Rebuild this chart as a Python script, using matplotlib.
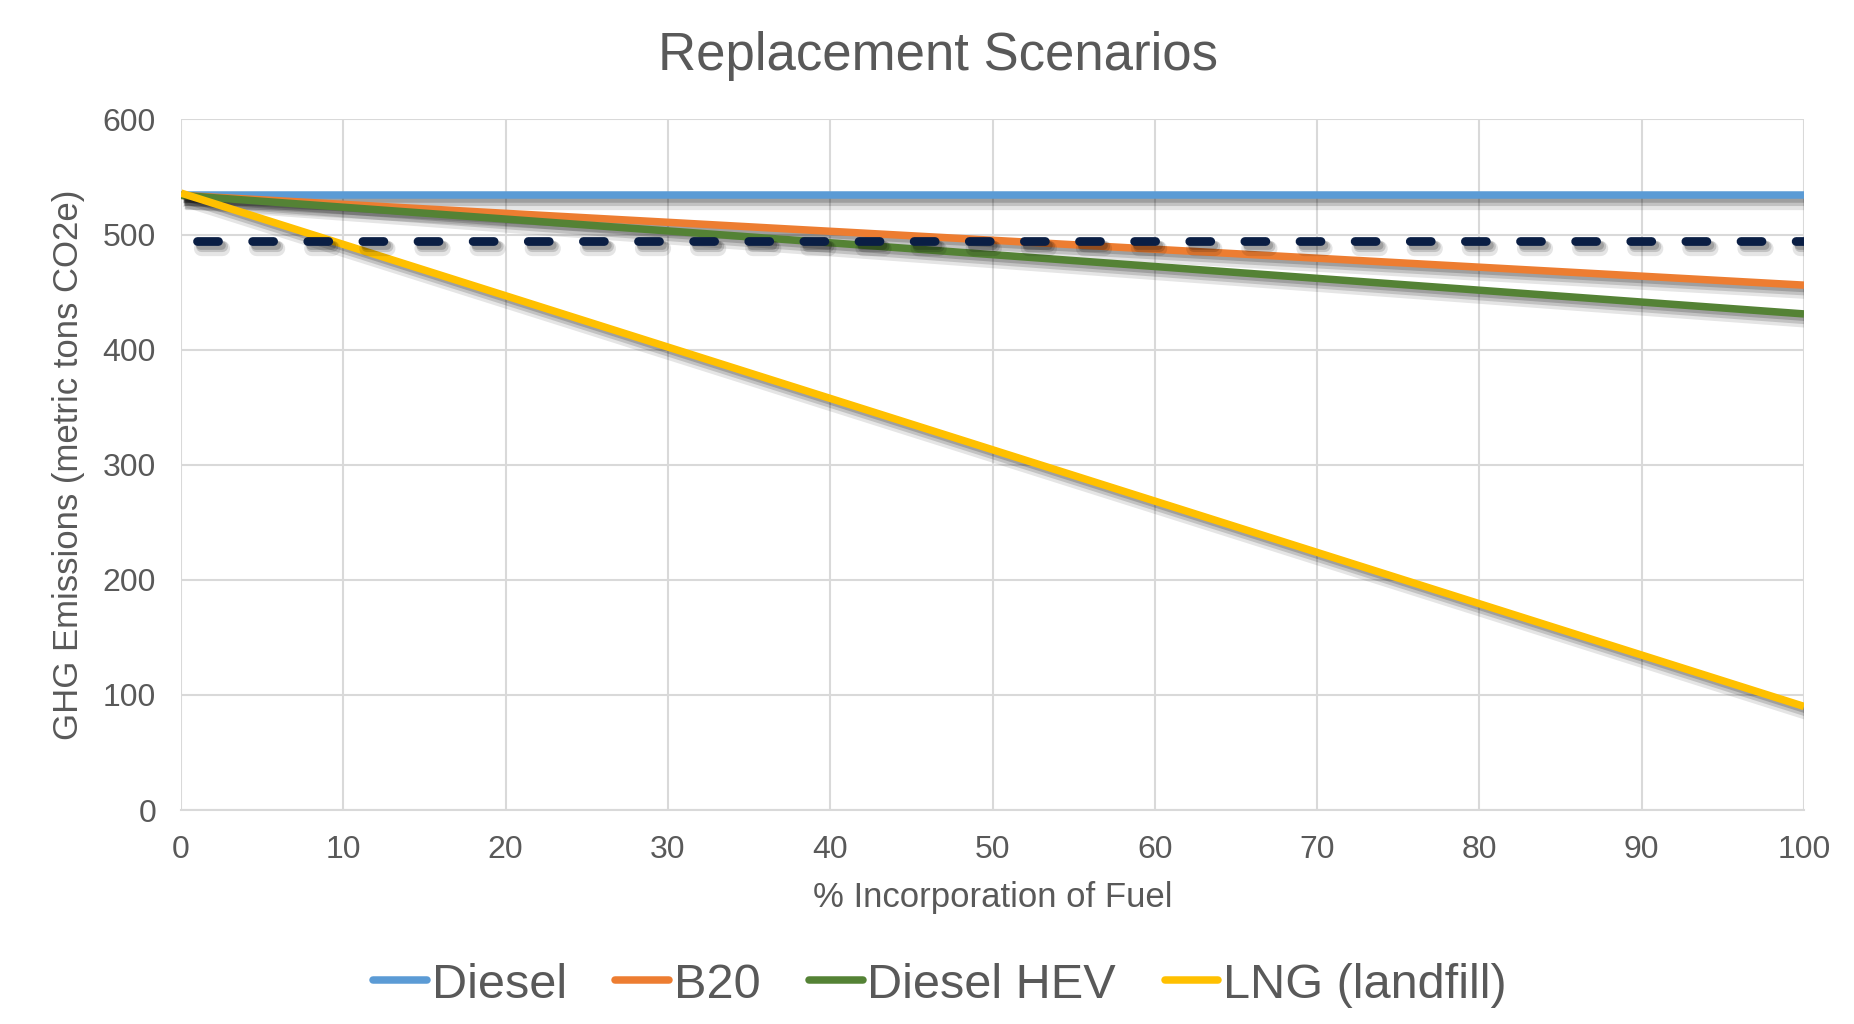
import matplotlib
matplotlib.use("Agg")
import matplotlib.pyplot as plt
import matplotlib.patheffects as pe

plt.rcParams['font.family'] = ['Liberation Sans', 'DejaVu Sans']

# Data
x_pct = [0, 100]
diesel = [534, 534]
b20 = [534, 456]
diesel_hev = [534, 431]
lng = [536, 90]
target_x = [1, 100]
target = [494, 494]

series_names = ["Diesel", "B20", "Diesel HEV", "LNG (landfill)"]
series_vals = [diesel, b20, diesel_hev, lng]
colors = ["#5B9BD5", "#ED7D31", "#548235", "#FFC000"]
text_color = "#595959"
grid_color = "#D9D9D9"

fig = plt.figure(figsize=(18.54, 10.24), dpi=100)
ax = fig.add_axes([181/1854, 1-810/1024, (1804-181)/1854, (810-119.4)/1024])

shadow = [pe.SimpleLineShadow(offset=(3, -4.5), shadow_color='k', alpha=0.10, linewidth=11),
          pe.SimpleLineShadow(offset=(2.5, -3.5), shadow_color='k', alpha=0.15, linewidth=8),
          pe.SimpleLineShadow(offset=(2, -2.5), shadow_color='k', alpha=0.18),
          pe.Normal()]

handles = []
for name, vals, c in zip(series_names, series_vals, colors):
    h, = ax.plot(x_pct, vals, color=c, lw=5.4, solid_capstyle='butt',
                 label=name, path_effects=shadow, zorder=3)
    handles.append(h)

ax.plot(target_x, target, color="#0A1E44", lw=6.3, dashes=(2.4, 3.9),
        dash_capstyle='round', path_effects=shadow, zorder=4)

ax.set_xlim(0, 100)
ax.set_ylim(0, 600)
ax.set_xticks(range(0, 101, 10))
ax.set_yticks(range(0, 601, 100))
ax.grid(True, color=grid_color, lw=1.5)
ax.set_axisbelow(True)
for s in ['top', 'right', 'left']:
    ax.spines[s].set_visible(False)
ax.spines['bottom'].set_color(grid_color)
ax.spines['bottom'].set_linewidth(1.5)
ax.tick_params(length=0, labelsize=23, labelcolor=text_color, pad=18)

ax.set_xlabel("% Incorporation of Fuel", fontsize=25, color=text_color)
ax.set_ylabel("GHG Emissions (metric tons CO2e)", fontsize=25, color=text_color)
ax.xaxis.label.set_va('center')
ax.yaxis.label.set_va('center')
ax.xaxis.set_label_coords(0.5, (810-898)/690.6)
ax.yaxis.set_label_coords((68.6-181)/1623, 0.5)

fig.text(938/1854, 1-56/1024, "Replacement Scenarios", fontsize=38,
         color=text_color, ha='center', va='center')

leg = fig.legend(handles=handles, loc='center', bbox_to_anchor=(940/1854, 1-985/1024),
                 ncol=4, frameon=False, fontsize=35, handlelength=1.1,
                 handletextpad=0.1, columnspacing=1.0, labelcolor=text_color)
for lh in leg.get_lines():
    lh.set_path_effects([])
    lh.set_solid_capstyle('round')
    lh.set_linewidth(5.4)

fig.savefig("out.png", dpi=100)
